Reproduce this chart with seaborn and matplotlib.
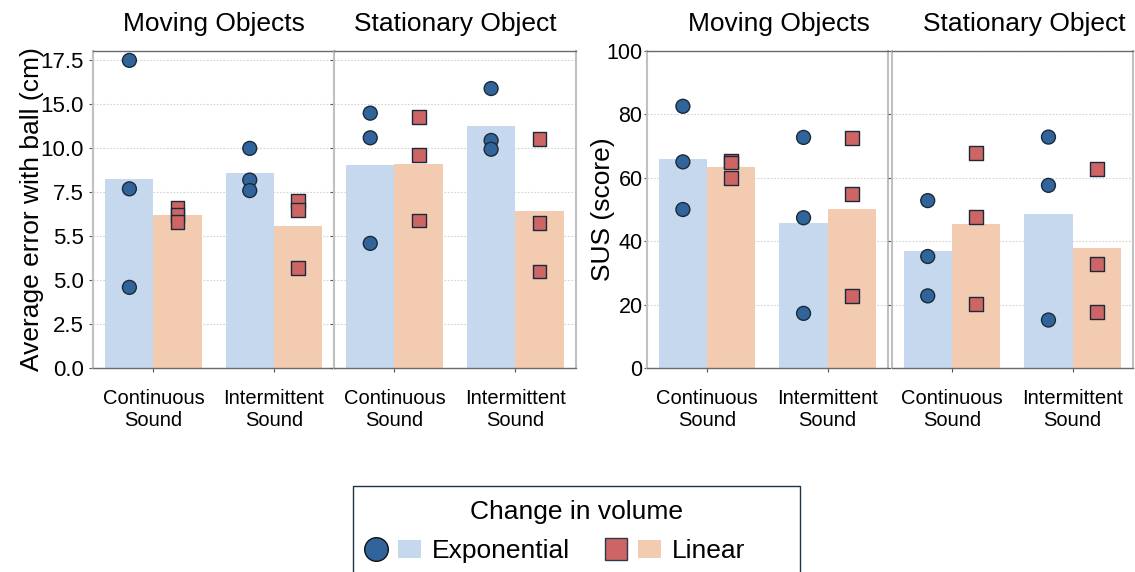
import numpy as np
import pandas as pd
import matplotlib
matplotlib.use("Agg")
import matplotlib.pyplot as plt
import seaborn as sns
from matplotlib.legend_handler import HandlerTuple
from matplotlib.lines import Line2D
from matplotlib.patches import Patch, Rectangle

# ---------------- data ----------------
CONDITIONS = ["Moving Objects", "Stationary Object"]
SOUNDS = ["Continuous\nSound", "Intermittent\nSound"]
CHANGES = ["Exponential", "Linear"]

# Average error with ball (cm), per participant
ERR_MOV_CONT_EXP = [17.5, 10.2, 4.6]
ERR_MOV_CONT_LIN = [9.1, 8.7, 8.3]
ERR_MOV_INT_EXP = [12.5, 10.7, 10.1]
ERR_MOV_INT_LIN = [9.5, 9.0, 5.7]
ERR_STA_CONT_EXP = [14.5, 13.1, 7.1]
ERR_STA_CONT_LIN = [14.3, 12.1, 8.4]
ERR_STA_INT_EXP = [15.9, 12.95, 12.45]
ERR_STA_INT_LIN = [13.05, 8.25, 5.5]

# SUS score, per participant
SUS_MOV_CONT_EXP = [82.5, 65.0, 50.0]
SUS_MOV_CONT_LIN = [65.2, 64.8, 59.8]
SUS_MOV_INT_EXP = [72.7, 47.4, 17.3]
SUS_MOV_INT_LIN = [72.6, 55.0, 22.7]
SUS_STA_CONT_EXP = [52.8, 35.2, 22.8]
SUS_STA_CONT_LIN = [67.9, 47.7, 20.3]
SUS_STA_INT_EXP = [72.8, 57.6, 15.2]
SUS_STA_INT_LIN = [62.7, 32.9, 17.7]

ERR_YTICKS = [0, 2.5, 5, 7.5, 10, 12.5, 15, 17.5]
ERR_YTICKLABELS = ["0.0", "2.5", "5.0", "5.5", "7.5", "10.0", "15.0", "17.5"]
SUS_YTICKS = [0, 20, 40, 60, 80, 100]
SUS_YTICKLABELS = ["0", "20", "40", "60", "80", "100"]


def make_df(groups):
    rows = []
    for (cond, sound, change), vals in groups.items():
        for v in vals:
            rows.append({"Condition": cond, "Sound": sound, "Change": change, "Value": v})
    return pd.DataFrame(rows)


err_df = make_df({
    (CONDITIONS[0], SOUNDS[0], CHANGES[0]): ERR_MOV_CONT_EXP,
    (CONDITIONS[0], SOUNDS[0], CHANGES[1]): ERR_MOV_CONT_LIN,
    (CONDITIONS[0], SOUNDS[1], CHANGES[0]): ERR_MOV_INT_EXP,
    (CONDITIONS[0], SOUNDS[1], CHANGES[1]): ERR_MOV_INT_LIN,
    (CONDITIONS[1], SOUNDS[0], CHANGES[0]): ERR_STA_CONT_EXP,
    (CONDITIONS[1], SOUNDS[0], CHANGES[1]): ERR_STA_CONT_LIN,
    (CONDITIONS[1], SOUNDS[1], CHANGES[0]): ERR_STA_INT_EXP,
    (CONDITIONS[1], SOUNDS[1], CHANGES[1]): ERR_STA_INT_LIN,
})
sus_df = make_df({
    (CONDITIONS[0], SOUNDS[0], CHANGES[0]): SUS_MOV_CONT_EXP,
    (CONDITIONS[0], SOUNDS[0], CHANGES[1]): SUS_MOV_CONT_LIN,
    (CONDITIONS[0], SOUNDS[1], CHANGES[0]): SUS_MOV_INT_EXP,
    (CONDITIONS[0], SOUNDS[1], CHANGES[1]): SUS_MOV_INT_LIN,
    (CONDITIONS[1], SOUNDS[0], CHANGES[0]): SUS_STA_CONT_EXP,
    (CONDITIONS[1], SOUNDS[0], CHANGES[1]): SUS_STA_CONT_LIN,
    (CONDITIONS[1], SOUNDS[1], CHANGES[0]): SUS_STA_INT_EXP,
    (CONDITIONS[1], SOUNDS[1], CHANGES[1]): SUS_STA_INT_LIN,
})

# ---------------- style ----------------
sns.set_style("white")
plt.rcParams["font.family"] = ["Liberation Sans", "DejaVu Sans"]
plt.rcParams["text.color"] = "black"
plt.rcParams["axes.labelcolor"] = "black"
plt.rcParams["xtick.color"] = "black"
plt.rcParams["ytick.color"] = "black"

BAR_COLORS = {"Exponential": "#c5d8ee", "Linear": "#f3cbb0"}
PT_COLORS = {"Exponential": "#31649b", "Linear": "#cd6565"}
MARKERS = {"Exponential": "o", "Linear": "s"}
MSIZE = {"Exponential": 10, "Linear": 10}
EDGE = "#1b2a3a"

W, H = 1135, 572
fig = plt.figure(figsize=(W / 100, H / 100), dpi=100)


def px_axes(x0, x1, y0=50.7, y1=368.3):
    return fig.add_axes([x0 / W, (H - y1) / H, (x1 - x0) / W, (y1 - y0) / H])


axes = [px_axes(93.3, 334.0), px_axes(334.0, 575.7),
        px_axes(646.7, 888.0), px_axes(891.5, 1133.0)]


def panel(ax, df, cond, ylim, yticks, yticklabels, show_labels, title_x):
    sub = df[df["Condition"] == cond]
    sns.barplot(data=sub, x="Sound", y="Value", hue="Change", order=SOUNDS,
                hue_order=CHANGES, palette=BAR_COLORS, errorbar=None, width=0.8,
                saturation=1, linewidth=0, ax=ax, legend=False)
    for ch in CHANGES:
        sns.stripplot(data=sub[sub["Change"] == ch], x="Sound", y="Value", hue="Change",
                      order=SOUNDS, hue_order=CHANGES, palette=PT_COLORS, dodge=True,
                      jitter=False, marker=MARKERS[ch], size=MSIZE[ch], linewidth=1,
                      edgecolor=EDGE, ax=ax, legend=False, zorder=3)
    ax.set_xlim(-0.5, 1.5)
    ax.set_ylim(*ylim)
    ax.set_yticks(yticks)
    ax.set_yticklabels(yticklabels)
    ax.set_xlabel("")
    ax.set_ylabel("")
    for lbl in ax.get_xticklabels():
        lbl.set_linespacing(1.2)
    ax.yaxis.grid(True, color="#d4d4d4", linestyle=(0, (1.5, 1.5)), linewidth=0.8)
    ax.set_axisbelow(True)
    for s in ["top", "bottom"]:
        ax.spines[s].set_color("#6a6a6a")
        ax.spines[s].set_linewidth(1.0)
    for s in ["left", "right"]:
        ax.spines[s].set_color("#c0c0c0")
        ax.spines[s].set_linewidth(1.5)
    ax.tick_params(axis="x", length=3, width=0.8, color="#555555", pad=12,
                   labelsize=14.5, bottom=True)
    ax.tick_params(axis="y", length=3, width=0.8, color="#555555", left=True,
                   labelleft=show_labels)
    ax.set_title(cond, fontsize=19, pad=14, x=title_x)


panel(axes[0], err_df, CONDITIONS[0], (0, 18.05), ERR_YTICKS, ERR_YTICKLABELS, True, 0.5)
panel(axes[1], err_df, CONDITIONS[1], (0, 18.05), ERR_YTICKS, ERR_YTICKLABELS, False, 0.5)
panel(axes[2], sus_df, CONDITIONS[0], (0, 100), SUS_YTICKS, SUS_YTICKLABELS, True, 0.55)
panel(axes[3], sus_df, CONDITIONS[1], (0, 100), SUS_YTICKS, SUS_YTICKLABELS, False, 0.55)

axes[0].tick_params(axis="y", labelsize=16, pad=4)
axes[2].tick_params(axis="y", labelsize=15.5, pad=1, length=2)
axes[0].set_ylabel("Average error with ball (cm)", fontsize=19, labelpad=-3)
axes[2].set_ylabel("SUS (score)", fontsize=19, labelpad=-6)

# ---------------- legend ----------------
LEG_FS = 19
h_exp = (Line2D([], [], marker="o", linestyle="", markersize=17, markerfacecolor=PT_COLORS["Exponential"],
                markeredgecolor="#111111", markeredgewidth=1),
         Patch(facecolor=BAR_COLORS["Exponential"], edgecolor="none"))
h_lin = (Line2D([], [], marker="s", linestyle="", markersize=16.5, markerfacecolor=PT_COLORS["Linear"],
                markeredgecolor="#2a3a4a", markeredgewidth=1),
         Patch(facecolor=BAR_COLORS["Linear"], edgecolor="none"))
leg = fig.legend([h_exp, h_lin], CHANGES, ncol=2,
                 loc="center left", bbox_to_anchor=(352.7 / W, 1 - 551 / H),
                 handler_map={tuple: HandlerTuple(ndivide=None, pad=0.38)},
                 fontsize=LEG_FS, handlelength=2.12, handleheight=0.7,
                 handletextpad=0.42, columnspacing=1.33, borderpad=0.45,
                 frameon=False, borderaxespad=0)
fig.text(576 / W, 1 - 512 / H, "Change in volume", ha="center", va="center", fontsize=LEG_FS)
fig.add_artist(Rectangle((352.7 / W, -0.02), (800 - 352.7) / W, (H - 486) / H + 0.02,
                         transform=fig.transFigure, fill=False, edgecolor="#1f3347", linewidth=1.0))

fig.savefig("out.png", dpi=100)
